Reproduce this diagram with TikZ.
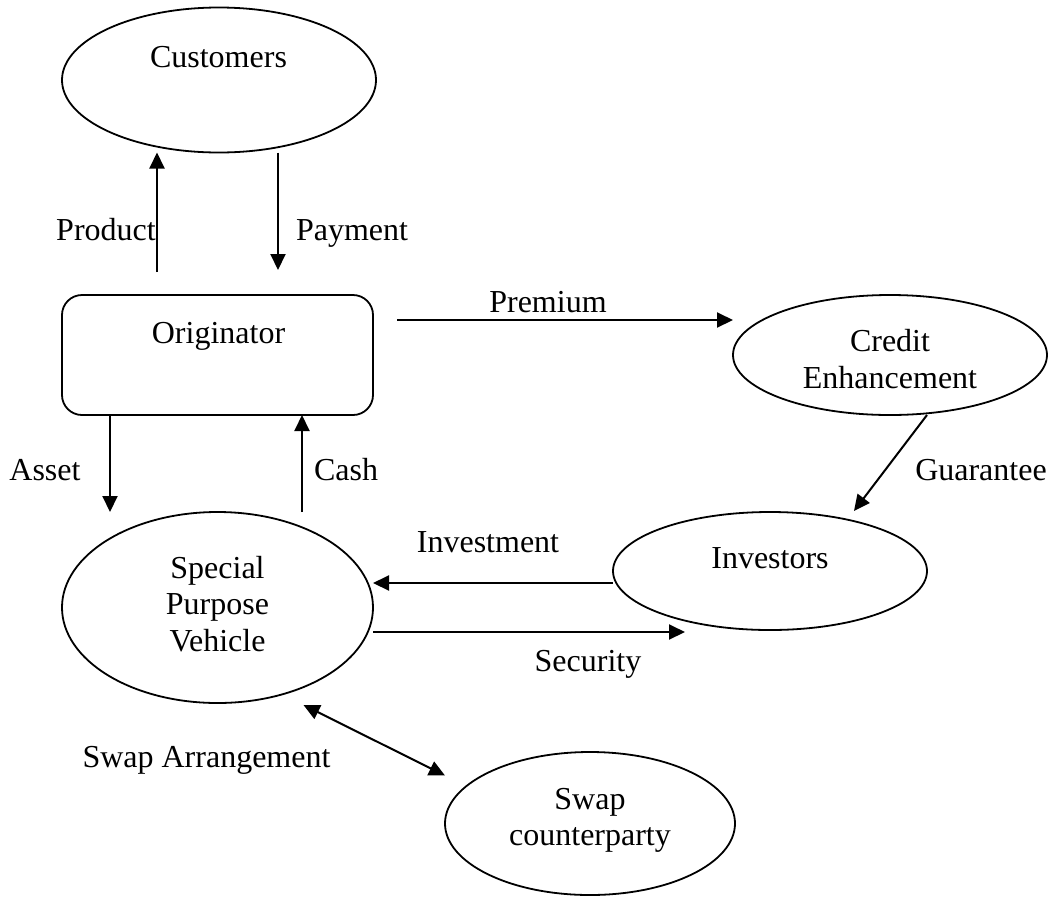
\documentclass[tikz,border=0pt]{standalone}
\usepackage{fontspec}
\setmainfont{Liberation Serif}
\usetikzlibrary{shapes.geometric,arrows.meta,calc}
\begin{document}
\begin{tikzpicture}[x=1pt,y=-1pt,
  ell/.style={draw,ellipse,line width=1.8pt,inner sep=0pt,outer sep=0pt},
  rbox/.style={draw,rectangle,rounded corners=20pt,line width=1.8pt,inner sep=0pt,outer sep=0pt,minimum width=311pt,minimum height=120pt},
  txt/.style={font=\fontsize{32}{36.5}\selectfont,inner sep=0pt,anchor=base},
  mtxt/.style={font=\fontsize{32}{36.5}\selectfont,inner sep=0pt,align=center,anchor=center},
  arr/.style={line width=2pt,-{Triangle[length=16pt,width=15pt]}},
  dbl/.style={line width=2pt,{Triangle[length=16pt,width=15pt]}-{Triangle[length=16pt,width=15pt]}}]
\useasboundingbox (0,0) rectangle (1058,898);
% shapes
\node[ell,minimum width=314pt,minimum height=145pt] (cust) at (219,80) {};
\node[rbox] (orig) at (217.5,355) {};
\node[ell,minimum width=314pt,minimum height=120pt] (cred) at (890,355) {};
\node[ell,minimum width=314pt,minimum height=118pt] (inv) at (770,571) {};
\node[ell,minimum width=311pt,minimum height=191pt] (spv) at (217.5,607.5) {};
\node[ell,minimum width=290pt,minimum height=143pt] (swap) at (590,823.5) {};
% texts in shapes
\node[txt] (custt) at (218.5,67) {Customers};
\node[txt] (origt) at (218.5,343) {Originator};
\node[mtxt] (credt) at (890,359) {Credit\\Enhancement};
\node[txt] (invt) at (770,568) {Investors};
\node[mtxt] (spvt) at (217.5,604) {Special\\Purpose\\Vehicle};
\node[mtxt] (swapt) at (590,820.5) {Swap\\counterparty};
% connector labels
\node[txt] (lprod) at (106,240) {Product};
\node[txt] (lpay) at (352,240) {Payment};
\node[txt] (lprem) at (548,312) {Premium};
\node[txt] (lasset) at (45,480) {Asset};
\node[txt] (lcash) at (346,480) {Cash};
\node[txt] (lguar) at (981,480) {Guarantee};
\node[txt] (linvm) at (488,552) {Investment};
\node[txt] (lsec) at (588,671) {Security};
\node[txt] (lswap) at (206.5,767) {Swap Arrangement};
% helper coordinates
\coordinate (xprod) at (157,0);
\coordinate (xpay) at (278,0);
\coordinate (xasset) at (110,0);
\coordinate (xcash) at (302,0);
\coordinate (yprem) at (0,320);
\coordinate (yinvm) at (0,583);
\coordinate (ysec) at (0,632);
% connectors
\draw[arr,shorten <=23pt] (orig.north -| xprod) -- (cust.south -| xprod);
\draw[arr,shorten >=25pt] (cust.south -| xpay) -- (orig.north -| xpay);
\draw[arr,shorten <=24pt] (orig.east |- yprem) -- (cred.west |- yprem);
\draw[arr] (orig.south -| xasset) -- (spv.north -| xasset);
\draw[arr] (spv.north -| xcash) -- (orig.south -| xcash);
\draw[arr] ($(cred.south)+(37,0)$) -- ($(inv.north)+(84,-1)$);
\draw[arr] (inv.west |- yinvm) -- (spv.east |- yinvm);
\draw[arr] (spv.east |- ysec) -- ($(inv.west |- ysec)+(72,0)$);
\draw[dbl] ($(spv.south)+(86,2)$) -- ($(swap.west)+(0,-48)$);
\end{tikzpicture}
\end{document}
